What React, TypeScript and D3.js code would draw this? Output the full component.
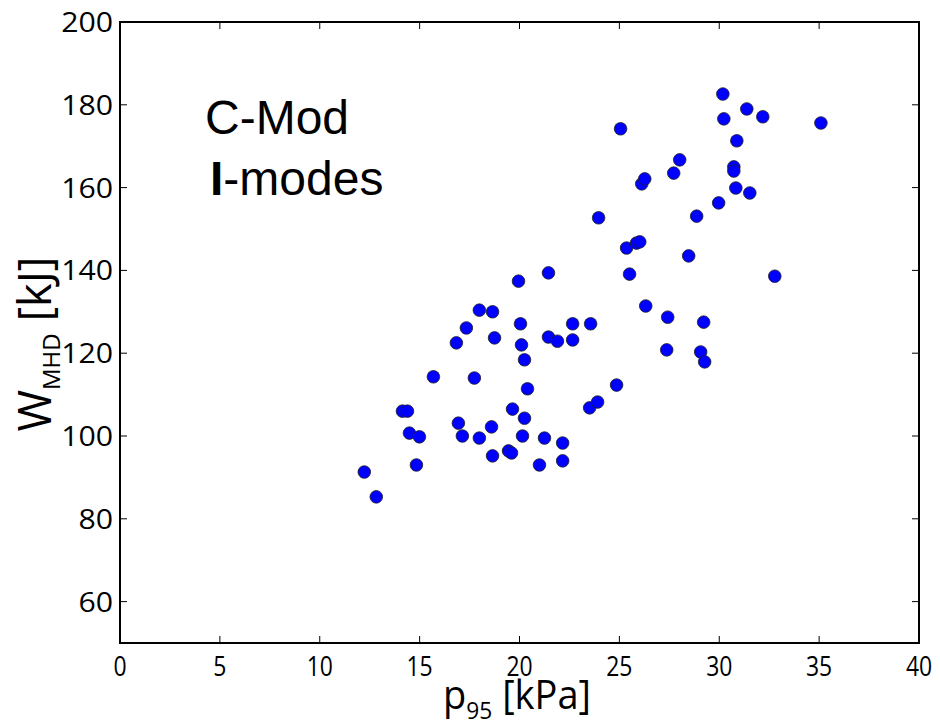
import React, { useEffect, useRef } from "react";
import * as d3 from "d3";

const pressure = [
  12.23, 12.83, 14.14, 14.39, 14.49, 14.99, 14.84, 15.69, 16.84, 17.34,
  17.99, 18.65, 18.75, 17.74, 16.94, 17.14, 17.99, 18.6, 18.65, 19.45,
  19.6, 19.65, 19.95, 20.05, 20.1, 20.25, 20.4, 20.25, 20.15, 21.0,
  21.25, 21.45, 21.45, 21.9, 22.16, 22.16, 22.66, 22.66, 23.56, 23.51,
  23.91, 23.96, 24.86, 25.06, 25.36, 25.51, 25.86, 26.02, 26.12, 26.27,
  26.32, 27.37, 27.42, 27.72, 28.02, 28.47, 28.87, 29.07, 29.22, 29.27,
  29.97, 30.18, 30.23, 30.73, 30.73, 30.88, 30.83, 31.38, 31.53, 32.18,
  32.78, 35.09,
];
const energy = [
  91.3, 85.3, 106.0, 106.0, 100.7, 99.8, 93.0, 114.3, 122.5, 126.1,
  130.4, 130.0, 123.7, 114.0, 103.1, 100.0, 99.5, 102.2, 95.2, 96.4,
  95.9, 106.5, 137.4, 127.1, 122.0, 118.4, 111.4, 104.3, 100.0, 93.0,
  99.5, 139.4, 123.9, 122.9, 98.3, 94.0, 127.1, 123.2, 127.1, 106.8,
  108.2, 152.7, 112.3, 174.2, 145.4, 139.1, 146.6, 146.9, 160.9, 162.1,
  131.4, 120.8, 128.7, 163.5, 166.7, 143.5, 153.1, 120.3, 127.5, 117.9,
  156.3, 182.6, 176.6, 165.0, 164.0, 171.3, 159.9, 179.0, 158.7, 177.1,
  138.6, 175.6,
];
const xTicks = [0, 5, 10, 15, 20, 25, 30, 35, 40];
const yTicks = [60, 80, 100, 120, 140, 160, 180, 200];
const annotation = ["C-Mod", "I-modes"];

const W = 940;
const H = 726;
const L = 120, R = 919, T = 22, B = 643;

export default function App() {
  const ref = useRef<SVGSVGElement>(null);
  useEffect(() => {
    const svg = d3.select(ref.current);
    svg.selectAll("*").remove();
    const x = d3.scaleLinear().domain([0, 40]).range([L, R]);
    const y = d3.scaleLinear().domain([50, 200]).range([B, T]);
    const tickFont = "'Open Sans', 'DejaVu Sans', sans-serif";

    svg.append("rect").attr("width", W).attr("height", H).attr("fill", "white");

    // ticks inward on all sides
    const g = svg.append("g").attr("stroke", "#000").attr("stroke-width", 1);
    xTicks.forEach((t) => {
      g.append("line").attr("x1", x(t)).attr("x2", x(t)).attr("y1", B).attr("y2", B - 7);
      g.append("line").attr("x1", x(t)).attr("x2", x(t)).attr("y1", T).attr("y2", T + 7);
    });
    yTicks.forEach((t) => {
      g.append("line").attr("x1", L).attr("x2", L + 7).attr("y1", y(t)).attr("y2", y(t));
      g.append("line").attr("x1", R).attr("x2", R - 7).attr("y1", y(t)).attr("y2", y(t));
    });

    svg.append("rect")
      .attr("x", L).attr("y", T).attr("width", R - L).attr("height", B - T)
      .attr("fill", "none").attr("stroke", "#000").attr("stroke-width", 2);

    // tick labels
    svg.append("g").selectAll("text").data(xTicks).join("text")
      .attr("transform", (d) => `translate(${x(d)},676) scale(0.85,1)`)
      .attr("text-anchor", "middle")
      .attr("font-family", tickFont).attr("font-size", 27)
      .text((d) => String(d));
    svg.append("g").selectAll("text").data(yTicks).join("text")
      .attr("transform", (d) => `translate(${L - 7},${y(d) + 10}) scale(1.08,1)`)
      .attr("text-anchor", "end")
      .attr("font-family", tickFont).attr("font-size", 28)
      .text((d) => String(d));

    // axis labels
    const xl = svg.append("text")
      .attr("transform", "translate(517,709) scale(0.95,1)")
      .attr("text-anchor", "middle")
      .attr("font-family", tickFont).attr("font-size", 40);
    xl.append("tspan").text("p");
    xl.append("tspan").attr("font-size", 24).attr("dy", 10).text("95");
    xl.append("tspan").attr("dy", -10).text(" [kPa]");

    const yl = svg.append("text")
      .attr("transform", "translate(51,344) rotate(-90)")
      .attr("text-anchor", "middle")
      .attr("font-family", tickFont).attr("font-size", 45);
    yl.append("tspan").text("W");
    yl.append("tspan").attr("font-size", 24).attr("dy", 9).text("MHD");
    yl.append("tspan").attr("dy", -9).text(" [kJ]");

    // annotation
    svg.append("text").attr("x", 205).attr("y", 134)
      .attr("font-family", "'Liberation Sans', Arial, sans-serif").attr("font-size", 48)
      .text(annotation[0]);
    const a2 = svg.append("text").attr("x", 210).attr("y", 195)
      .attr("font-family", "'Liberation Sans', Arial, sans-serif").attr("font-size", 48);
    a2.append("tspan").attr("font-weight", "bold").text(annotation[1].slice(0, 1));
    a2.append("tspan").text(annotation[1].slice(1));

    // points
    svg.append("g").selectAll("circle").data(pressure.map((p, i) => [p, energy[i]]))
      .join("circle")
      .attr("cx", (d) => x(d[0])).attr("cy", (d) => y(d[1])).attr("r", 6.3)
      .attr("fill", "#0000ff").attr("stroke", "#222").attr("stroke-width", 0.8);
  }, []);
  return (
    <svg ref={ref} width={W} height={H}
      style={{ position: "absolute", left: 0, top: 0, display: "block" }} />
  );
}
